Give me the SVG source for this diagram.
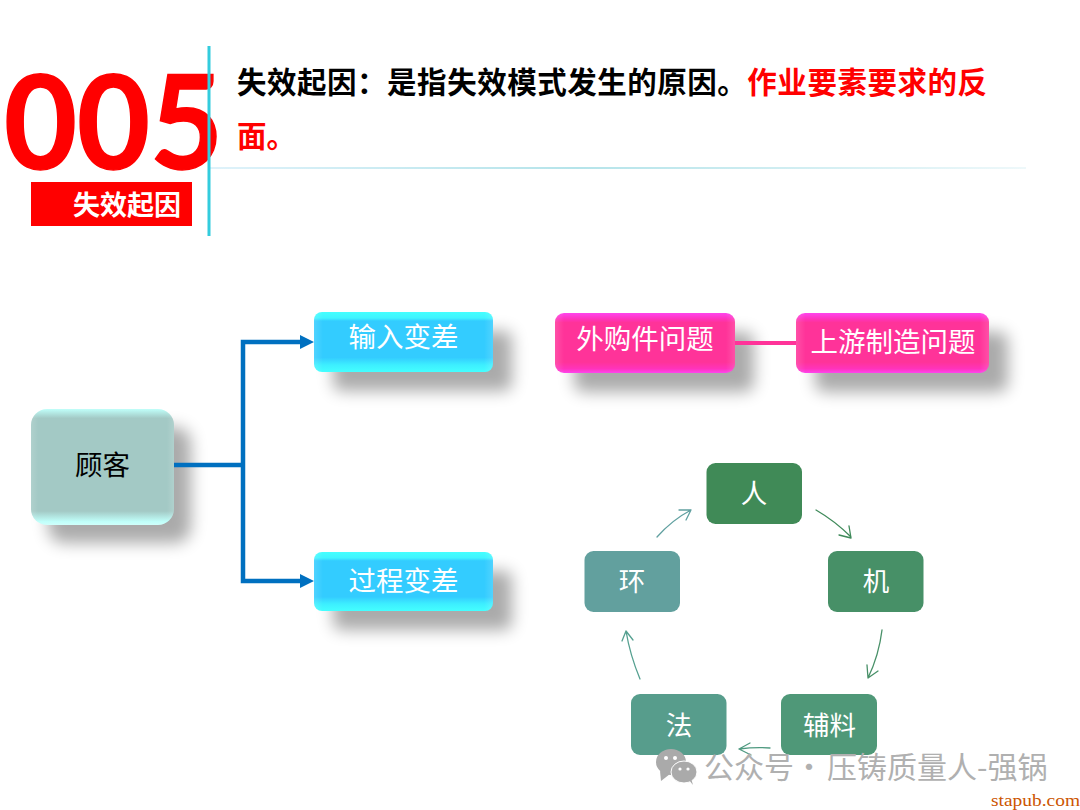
<svg xmlns="http://www.w3.org/2000/svg" width="1080" height="810" viewBox="0 0 1080 810">
<style>
text{font-family:"Noto Sans CJK SC","Noto Sans",sans-serif}
.c{text-anchor:middle}
.w{fill:#fff;font-size:27.5px}
.cy{fill:#fff;font-size:26.5px;text-anchor:middle}
.s{fill:#000;opacity:.33;filter:url(#blur)}
.e{fill:url(#side)}
.a{fill:none;stroke-width:1.3;stroke-linecap:round;stroke-linejoin:round}
</style>
<defs>
<filter id="blur" x="-30%" y="-40%" width="160%" height="180%"><feGaussianBlur stdDeviation="8"/></filter>
<linearGradient id="blue" x1="0" y1="0" x2="0" y2="1"><stop offset="0" stop-color="#44ffff"/><stop offset=".1" stop-color="#40f4ff"/><stop offset=".15" stop-color="#33ccff"/><stop offset=".76" stop-color="#33ccff"/><stop offset=".88" stop-color="#3deeff"/><stop offset="1" stop-color="#44ffff"/></linearGradient>
<linearGradient id="pink" x1="0" y1="0" x2="0" y2="1"><stop offset="0" stop-color="#ff44ee"/><stop offset=".1" stop-color="#ff33bb"/><stop offset=".16" stop-color="#ff3399"/><stop offset=".82" stop-color="#ff3399"/><stop offset=".93" stop-color="#ff33bb"/><stop offset="1" stop-color="#ff44ee"/></linearGradient>
<linearGradient id="teal" x1="0" y1="0" x2="0" y2="1"><stop offset="0" stop-color="#c0fffa"/><stop offset=".08" stop-color="#a3c9c5"/><stop offset=".88" stop-color="#a3c9c5"/><stop offset=".97" stop-color="#c0fffa"/><stop offset="1" stop-color="#d0fffb"/></linearGradient>
<linearGradient id="side" x1="0" y1="0" x2="1" y2="0"><stop offset="0" stop-color="#fff" stop-opacity=".14"/><stop offset=".05" stop-color="#fff" stop-opacity="0"/><stop offset=".95" stop-color="#fff" stop-opacity="0"/><stop offset="1" stop-color="#fff" stop-opacity=".14"/></linearGradient>
<linearGradient id="rule" x1="0" y1="0" x2="1" y2="0"><stop offset="0" stop-color="#dff2fa"/><stop offset=".45" stop-color="#b5e4ea"/><stop offset="1" stop-color="#eef8fa"/></linearGradient>
</defs>
<rect width="1080" height="810" fill="#fff"/>

<g id="header">
<rect x="210" y="167" width="816" height="2" fill="url(#rule)"/>
<text x="4" y="169" font-size="131" font-weight="700" fill="#f00" stroke="#f00" stroke-width="1.500" textLength="219" lengthAdjust="spacingAndGlyphs" style="font-family:Lato,'Open Sans',sans-serif">005</text>
<rect x="207.500" y="46" width="3" height="190" fill="#33ccdd"/>
<rect x="31" y="182" width="161" height="44" fill="#f00"/>
<text x="73" y="215" font-size="27" font-weight="700" fill="#fff">失效起因</text>
<text x="237" y="93" font-size="29.500" font-weight="700" textLength="750"><tspan fill="#000">失效起因：是指失效模式发生的原因。</tspan><tspan fill="#f00">作业要素要求的反</tspan></text>
<text x="237" y="147" font-size="29.500" font-weight="700" fill="#f00">面。</text>
</g>

<g id="node-guke">
<rect class="s" x="48" y="427" width="143" height="116" rx="16"/>
<rect x="31" y="409" width="143" height="116" rx="16" fill="url(#teal)"/>
<rect class="e" x="31" y="409" width="143" height="116" rx="16"/>
<text class="c" x="102.500" y="475" font-size="27.500" fill="#000">顾客</text>
</g>
<g id="node-input">
<rect class="s" x="333" y="331" width="179" height="60" rx="8"/>
<rect x="314" y="312" width="179" height="60" rx="8" fill="url(#blue)"/>
<rect class="e" x="314" y="312" width="179" height="60" rx="8"/>
<text class="w c" x="403.500" y="347">输入变差</text>
</g>
<g id="node-process">
<rect class="s" x="333" y="571" width="179" height="59" rx="8"/>
<rect x="314" y="552" width="179" height="59" rx="8" fill="url(#blue)"/>
<rect class="e" x="314" y="552" width="179" height="59" rx="8"/>
<text class="w c" x="403.500" y="591">过程变差</text>
</g>
<g id="node-purchase">
<rect class="s" x="574" y="332" width="180" height="60" rx="9"/>
<rect x="555" y="313" width="180" height="60" rx="9" fill="url(#pink)"/>
<rect class="e" x="555" y="313" width="180" height="60" rx="9"/>
<text class="w c" x="645" y="349">外购件问题</text>
</g>
<g id="node-upstream">
<rect class="s" x="815" y="332" width="193" height="60" rx="9"/>
<rect x="796" y="313" width="193" height="60" rx="9" fill="url(#pink)"/>
<rect class="e" x="796" y="313" width="193" height="60" rx="9"/>
<text class="w c" x="893" y="352">上游制造问题</text>
</g>

<g id="node-ren"><rect x="706.500" y="463" width="95.500" height="61" rx="9" fill="#408a57"/><text class="cy" x="754" y="503">人</text></g>
<g id="node-ji"><rect x="828" y="551" width="95.500" height="61" rx="9" fill="#479067"/><text class="cy" x="876" y="591">机</text></g>
<g id="node-fuliao"><rect x="781" y="694" width="96" height="61" rx="9" fill="#4f9878"/><text class="cy" x="829.500" y="735">辅料</text></g>
<g id="node-fa"><rect x="631" y="694" width="95.500" height="61" rx="9" fill="#579d8c"/><text class="cy" x="679" y="735">法</text></g>
<g id="node-huan"><rect x="584.500" y="551" width="95.500" height="61" rx="9" fill="#62a09e"/><text class="cy" x="632" y="591">环</text></g>

<g id="connectors">
<path d="M174 465H243" stroke="#0070c0" stroke-width="4.500" fill="none"/>
<path d="M304 342H243V581H304" stroke="#0070c0" stroke-width="4.500" fill="none"/>
<path d="M300 335L314 342L300 349Z M300 574L314 581L300 588Z" fill="#0070c0"/>
<path d="M735 343H796" stroke="#ff3399" stroke-width="4" fill="none"/>
<g class="a">
<path d="M816 510Q835 521 851 537M851 538L839 535M851 538L849 526" stroke="#3f8a5a"/>
<path d="M882 630Q879 655 868 678M868 678L878 671M868 678L867 665" stroke="#489068"/>
<path d="M770 748Q755 747 739 749M739 749L750 743M739 749L751 755" stroke="#4f9a80"/>
<path d="M640 679Q630 655 626 631M626 631L622 641M626 631L633 640" stroke="#55a090"/>
<path d="M657 537Q672 520 691 510M691 510L679 510M691 510L686 520" stroke="#60a0a0"/>
</g>
</g>

<g id="watermark">
<ellipse cx="671" cy="762" rx="15" ry="13" fill="#aaa"/>
<path d="M660 771L661 781L670 774Z" fill="#aaa"/>
<ellipse cx="684" cy="772" rx="13" ry="11" fill="#aaa" stroke="#fff" stroke-width="1"/>
<path d="M689 780L693 785L691 778Z" fill="#aaa"/>
<circle cx="666" cy="758" r="2" fill="#fff"/><circle cx="675" cy="758" r="2" fill="#fff"/>
<circle cx="680" cy="769" r="1.600" fill="#fff"/><circle cx="688" cy="769" r="1.600" fill="#fff"/>
<text y="778" font-size="30" fill="#b0b0b0"><tspan x="704">公众号</tspan><tspan x="794">·</tspan><tspan x="827">压铸质量人-强锅</tspan></text>
<text x="991" y="806" font-size="17.500" fill="#cc5500" textLength="89" lengthAdjust="spacingAndGlyphs" style="font-family:'Liberation Serif',serif">stapub.com</text>
</g>
</svg>
